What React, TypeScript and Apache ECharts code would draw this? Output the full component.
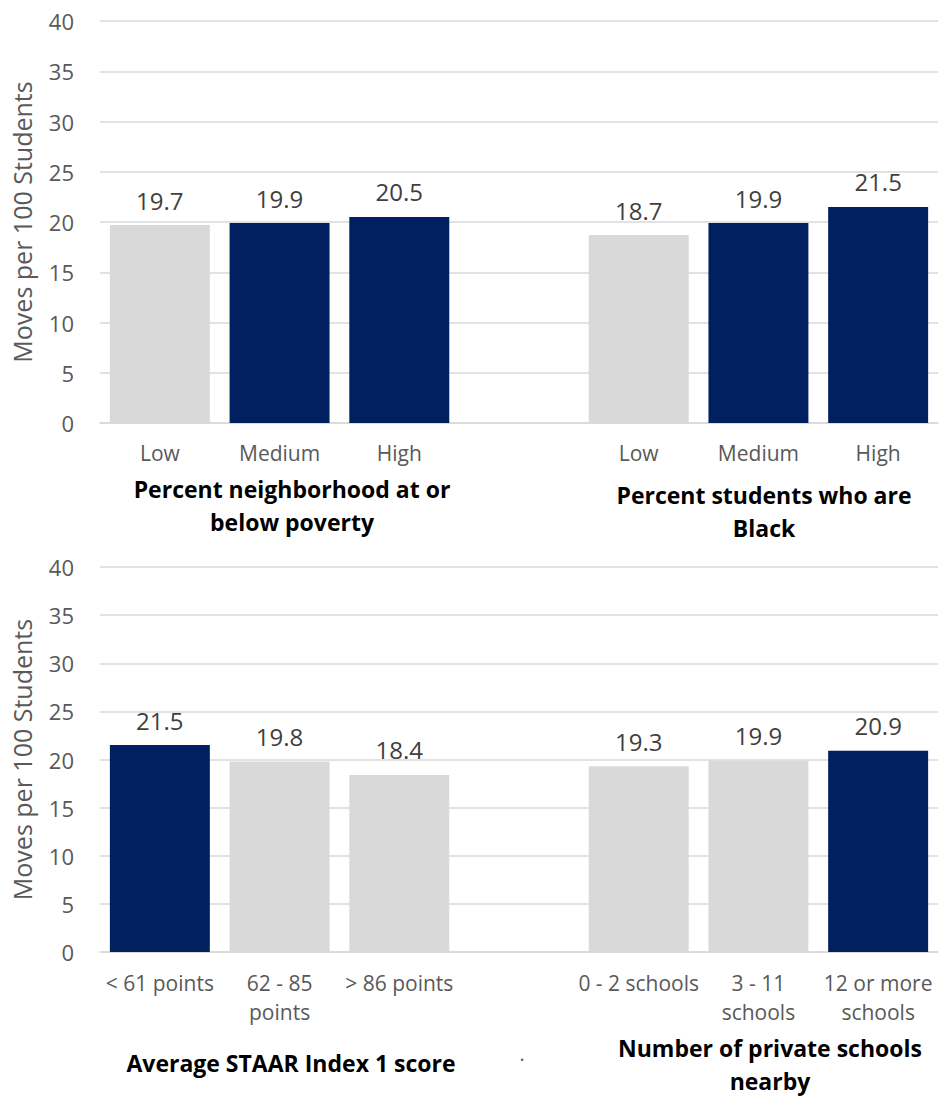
import React, { useEffect, useRef } from "react";
import * as echarts from "echarts";

// ---- Data ----
const topCategories = ["Low", "Medium", "High", "", "Low", "Medium", "High"];
const topValues: (number | null)[] = [19.7, 19.9, 20.5, null, 18.7, 19.9, 21.5];
const topHighlight = [false, true, true, false, false, true, true];

const bottomCategories = [
  "< 61 points",
  "62 - 85\npoints",
  "> 86 points",
  "",
  "0 - 2 schools",
  "3 - 11\nschools",
  "12 or more\nschools",
];
const bottomValues: (number | null)[] = [21.5, 19.8, 18.4, null, 19.3, 19.9, 20.9];
const bottomHighlight = [true, false, false, false, false, false, true];

const yAxisName = "Moves per 100 Students";
const yMin = 0;
const yMax = 40;
const yInterval = 5;

const titleTopLeft = "Percent neighborhood at or\nbelow poverty";
const titleTopRight = "Percent students who are\nBlack";
const titleBottomLeft = "Average STAAR Index 1 score";
const titleBottomRight = "Number of private schools\nnearby";

const NAVY = "#002060";
const GRAY = "#d9d9d9";
const FONT = "Open Sans";

function buildSeriesData(values: (number | null)[], highlight: boolean[]) {
  return values.map((v, i) =>
    v === null
      ? "-"
      : { value: v, itemStyle: { color: highlight[i] ? NAVY : GRAY } }
  );
}

export default function App() {
  const ref = useRef<HTMLDivElement>(null);

  useEffect(() => {
    document.body.style.margin = "0";
    if (!ref.current) return;
    const chart = echarts.init(ref.current, null, { renderer: "svg" });

    const xAxisCommon = {
      type: "category" as const,
      axisTick: { show: false },
      axisLine: { show: true, lineStyle: { color: "#d9d9d9", width: 1.5 } },
      axisLabel: {
        color: "#595959",
        fontFamily: FONT,
        fontSize: 21,
        lineHeight: 29,
        interval: 0,
      },
    };
    const yAxisCommon = {
      type: "value" as const,
      min: yMin,
      max: yMax,
      interval: yInterval,
      name: yAxisName,
      nameLocation: "middle" as const,
      nameGap: 66,
      nameTextStyle: { color: "#595959", fontFamily: FONT, fontSize: 25 },
      axisLine: { show: false },
      axisTick: { show: false },
      axisLabel: { color: "#595959", fontFamily: FONT, fontSize: 22, margin: 26 },
      splitLine: { lineStyle: { color: "#d9d9d9", width: 1.5 } },
    };
    const labelCommon = {
      show: true,
      position: "top" as const,
      distance: 13,
      color: "#404040",
      fontFamily: FONT,
      fontSize: 24,
    };
    const titleStyle = (text: string, x: number, y: number) => ({
      type: "text" as const,
      x,
      y,
      style: {
        text,
        fill: "#000000",
        font: `bold 23px "${FONT}"`,
        align: "center",
        verticalAlign: "middle",
        lineHeight: 33,
      },
    });

    chart.setOption({
      animation: false,
      grid: [
        { left: 100, width: 838, top: 21, height: 402, outerBoundsMode: "none", containLabel: false },
        { left: 100, width: 838, top: 567, height: 385, outerBoundsMode: "none", containLabel: false },
      ],
      xAxis: [
        { ...xAxisCommon, gridIndex: 0, data: topCategories, axisLabel: { ...xAxisCommon.axisLabel, margin: 15 } },
        { ...xAxisCommon, gridIndex: 1, data: bottomCategories, axisLabel: { ...xAxisCommon.axisLabel, margin: 16 } },
      ],
      yAxis: [
        { ...yAxisCommon, gridIndex: 0 },
        { ...yAxisCommon, gridIndex: 1 },
      ],
      series: [
        {
          type: "bar",
          xAxisIndex: 0,
          yAxisIndex: 0,
          barWidth: "83.5%",
          data: buildSeriesData(topValues, topHighlight),
          label: labelCommon,
        },
        {
          type: "bar",
          xAxisIndex: 1,
          yAxisIndex: 1,
          barWidth: "83.5%",
          data: buildSeriesData(bottomValues, bottomHighlight),
          label: labelCommon,
        },
      ],
      graphic: [
        titleStyle(titleTopLeft, 292, 505),
        titleStyle(titleTopRight, 764, 511),
        titleStyle(titleBottomLeft, 291, 1063),
        titleStyle(titleBottomRight, 770, 1064),
        {
          type: "text",
          x: 522,
          y: 1053,
          style: { text: ".", fill: "#595959", font: `20px "${FONT}"`, align: "center", verticalAlign: "middle" },
        },
      ],
    });

    return () => chart.dispose();
  }, []);

  return <div ref={ref} style={{ width: 940, height: 1097 }} />;
}
